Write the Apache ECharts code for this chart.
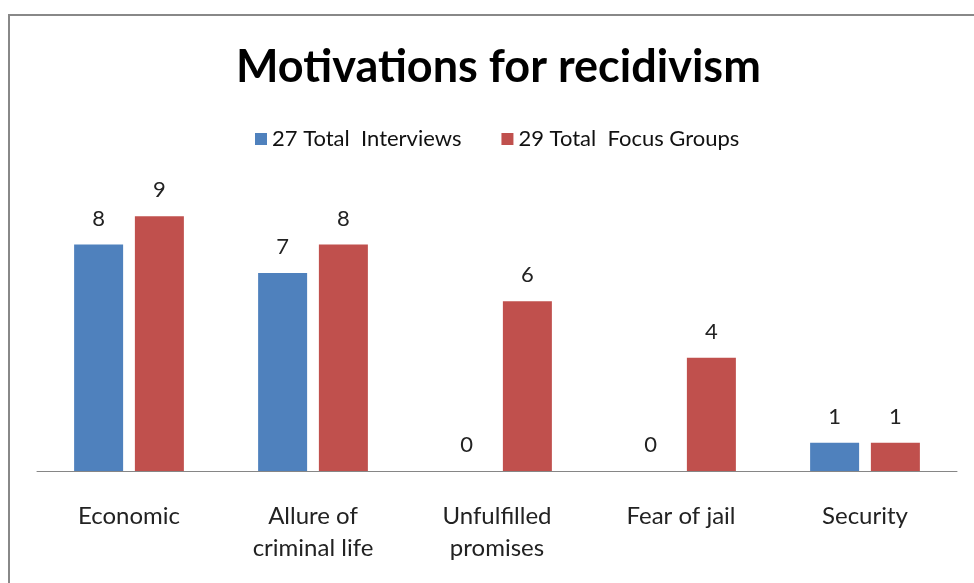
<!DOCTYPE html>
<html><head><meta charset="utf-8">
<script src="https://cdn.jsdelivr.net/npm/echarts@6/dist/echarts.min.js"></script>
<style>html,body{margin:0;padding:0;background:#fff}#c{width:974px;height:583px}</style>
</head><body><div id="c"></div>
<script>
const categories = ["Economic", "Allure of\ncriminal life", "Unfulfilled\npromises", "Fear of jail", "Security"];
const seriesNames = ["27 Total  Interviews", "29 Total  Focus Groups"];
const interviews = [8, 7, 0, 0, 1];
const focusGroups = [9, 8, 6, 4, 1];

const FONT = "Lato, 'Open Sans', sans-serif";
const chart = echarts.init(document.getElementById('c'));
const labelStyle = {show: true, position: 'top', distance: 15, fontSize: 22, color: '#222', fontFamily: FONT};
chart.setOption({
  animation: false,
  graphic: [{type: 'rect', shape: {x: 9, y: 15, width: 1000, height: 600}, style: {fill: 'none', stroke: '#888', lineWidth: 2}, silent: true}],
  title: {text: 'Motivations for recidivism', left: 231, top: 40,
    textStyle: {fontSize: 45, fontWeight: 'bold', color: '#000', fontFamily: FONT}},
  legend: {top: 123, left: 250, itemWidth: 12, itemHeight: 12, itemGap: 40, icon: 'rect',
    textStyle: {fontSize: 22, color: '#111', fontFamily: FONT}},
  grid: {left: 37, right: 17, top: 188, bottom: 112, containLabel: false},
  xAxis: {type: 'category', data: categories,
    axisLine: {lineStyle: {color: '#868686', width: 1}}, axisTick: {show: false},
    axisLabel: {fontSize: 24, color: '#222', fontFamily: FONT, margin: 29, lineHeight: 32, interval: 0}},
  yAxis: {type: 'value', min: 0, max: 10, show: false, splitLine: {show: false}},
  series: [
    {name: seriesNames[0], type: 'bar', data: interviews, barWidth: 49, barGap: '24%',
     itemStyle: {color: '#4F81BD'}, label: labelStyle},
    {name: seriesNames[1], type: 'bar', data: focusGroups, barWidth: 49,
     itemStyle: {color: '#C0504D'}, label: labelStyle}
  ]
});
</script></body></html>
